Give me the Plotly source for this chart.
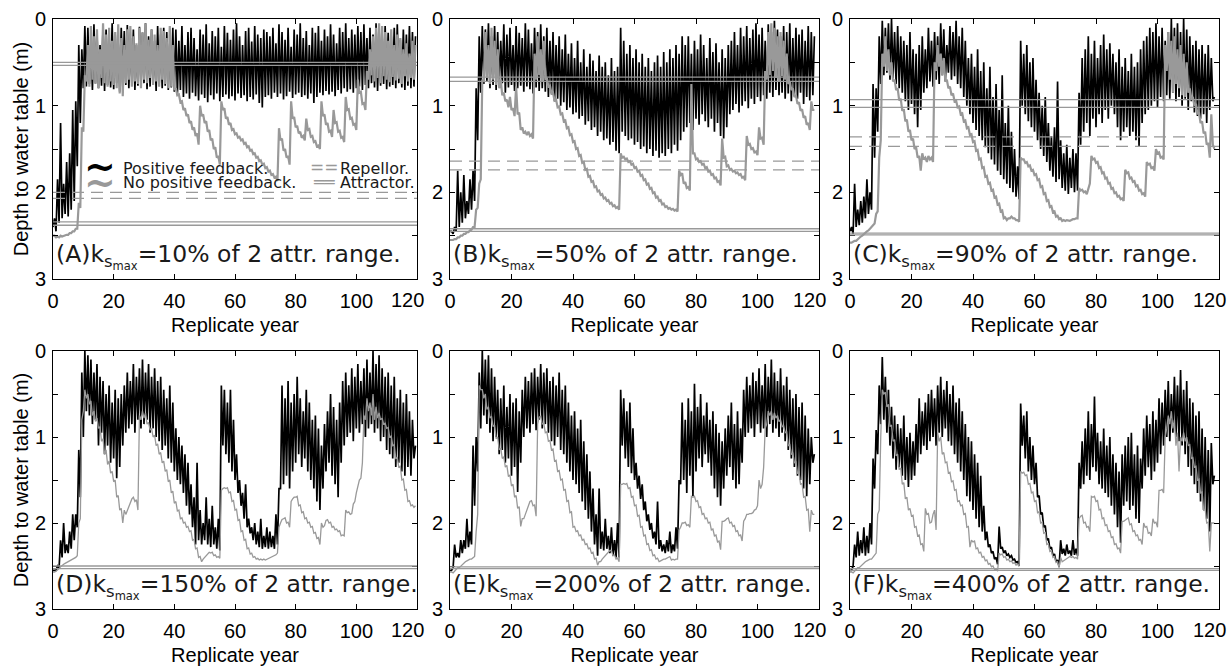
import plotly.graph_objects as go

# ---------------- data: annual deepest (start of year) and shallowest (wet-season peak) depth, m ----------------
A_pos_deep = [2.40,2.45,2.35,2.30,2.25,2.28,2.20,2.10,1.70,1.20,0.80,
    0.78,0.75,0.82,0.74,0.80,0.77,0.83,0.76,0.79,0.81,0.74,0.84,0.78,0.76,0.80,0.75,0.82,0.77,0.79,0.74,0.81,0.78,0.76,0.83,0.75,0.80,0.77,0.82,0.79,
    0.84,0.88,0.82,0.90,0.86,0.92,0.85,0.89,0.94,0.87,0.91,0.96,0.88,0.93,0.86,0.95,0.90,0.87,0.92,0.89,0.94,0.86,0.91,0.88,0.95,0.90,0.93,0.87,0.97,1.02,0.90,
    0.88,0.92,0.85,0.90,0.86,0.93,0.89,0.84,0.91,0.87,0.85,0.90,0.88,0.92,0.86,0.97,0.90,0.85,0.88,0.83,0.87,0.84,0.89,0.82,0.86,0.80,0.84,0.81,0.85,0.80,
    0.78,0.82,0.76,0.80,0.74,0.79,0.83,0.77,0.75,0.81,0.78,0.76,0.80,0.74,0.79,0.82,0.77,0.80,0.78]
A_pos_peak = [2.30,1.85,1.20,1.90,1.65,1.55,1.05,0.95,0.30,0.35,0.08,
    0.10,0.25,0.06,0.15,0.30,0.08,0.12,0.20,0.05,0.18,0.28,0.10,0.14,0.07,0.22,0.12,0.30,0.09,0.16,0.05,0.20,0.12,0.25,0.08,0.18,0.10,0.15,0.28,0.10,
    0.12,0.25,0.08,0.30,0.15,0.10,0.22,0.35,0.12,0.18,0.06,0.28,0.14,0.20,0.10,0.32,0.08,0.16,0.24,0.12,0.05,0.20,0.30,0.14,0.10,0.26,0.08,0.18,0.22,0.12,0.15,
    0.20,0.10,0.28,0.06,0.15,0.24,0.10,0.32,0.12,0.18,0.05,0.22,0.14,0.30,0.10,0.16,0.08,0.25,0.12,0.20,0.06,0.18,0.28,0.10,0.15,0.05,0.22,0.12,0.18,0.08,
    0.15,0.06,0.22,0.10,0.18,0.05,0.12,0.25,0.08,0.16,0.20,0.10,0.06,0.24,0.12,0.18,0.08,0.15,0.20]
A_nofb_deep = [2.50,2.52,2.52,2.51,2.50,2.49,2.47,2.45,2.42,2.18,1.30,
    0.72,0.78,0.70,0.75,0.80,0.68,0.74,0.78,0.72,0.76,0.80,0.86,0.89,0.74,0.70,0.78,0.72,0.75,0.80,0.70,0.74,0.68,0.76,0.72,0.78,0.70,0.75,0.80,0.78,
    0.82,0.88,0.96,1.05,1.12,1.20,1.28,1.35,1.45,1.12,1.20,1.30,1.40,1.50,1.60,1.68,1.05,1.15,1.22,1.28,1.33,1.37,1.40,1.44,1.48,1.52,1.56,1.60,1.64,1.68,1.72,
    1.76,1.80,1.83,1.87,1.40,1.52,1.60,1.68,1.15,1.25,1.32,1.37,1.40,1.28,1.36,1.42,1.47,1.50,1.12,1.22,1.30,1.36,1.20,1.30,1.37,1.42,1.05,1.15,1.22,1.28,
    0.85,0.98,1.05,0.70,0.65,0.72,0.68,0.74,0.66,0.70,0.73,0.67,0.71,0.69,0.75,0.66,0.72,0.68,0.70]
A_nofb_peak = [2.50,2.51,2.50,2.50,2.49,2.47,2.45,2.42,2.12,1.25,0.65,
    0.30,0.08,0.20,0.12,0.35,0.05,0.18,0.10,0.25,0.15,0.06,0.22,0.30,0.12,0.08,0.20,0.28,0.10,0.15,0.05,0.24,0.12,0.18,0.30,0.10,0.14,0.22,0.08,0.30,
    0.80,0.87,0.95,1.03,1.10,1.18,1.25,1.32,1.00,1.10,1.18,1.28,1.38,1.48,1.58,0.95,1.03,1.13,1.20,1.27,1.32,1.36,1.39,1.43,1.47,1.51,1.55,1.59,1.63,1.67,1.71,
    1.75,1.79,1.82,1.26,1.38,1.50,1.58,0.95,1.13,1.23,1.30,1.35,1.15,1.27,1.35,1.41,1.46,0.95,1.10,1.20,1.29,1.05,1.19,1.29,1.36,0.90,1.04,1.14,1.21,0.70,
    0.84,0.97,0.60,0.35,0.20,0.10,0.05,0.08,0.15,0.25,0.12,0.30,0.18,0.22,0.35,0.28,0.40,0.25,0.30]

B_pos_deep = [2.45,2.48,2.45,2.40,2.35,2.30,2.25,2.20,2.10,1.40,0.85,
    0.75,0.72,0.80,0.76,0.82,0.78,0.74,0.85,0.79,0.76,0.83,0.80,0.77,0.84,0.78,0.81,0.86,0.79,0.83,0.80,
    0.84,0.90,0.86,0.95,0.92,1.00,0.96,1.05,1.02,1.10,1.08,1.15,1.12,1.22,1.18,1.28,1.25,1.35,1.30,1.40,1.38,1.45,1.42,1.52,1.55,
    1.30,1.35,1.40,1.38,1.45,1.42,1.50,1.47,1.55,1.50,1.58,1.52,1.60,1.55,1.58,1.50,1.55,1.45,1.52,1.40,
    1.30,1.25,1.20,1.28,1.15,1.22,1.10,1.18,1.25,1.15,1.30,1.20,1.35,1.38,1.25,
    1.10,1.05,0.98,1.08,1.00,0.95,1.03,0.92,0.98,0.90,0.95,0.88,0.92,0.85,0.90,0.82,0.88,0.85,0.92,0.86,0.95,0.88,0.92,0.85,0.98,0.90,0.94,0.88]
B_pos_peak = [2.45,2.40,1.75,2.00,1.80,2.10,1.85,1.75,0.80,0.20,0.08,
    0.12,0.05,0.20,0.08,0.15,0.25,0.06,0.18,0.10,0.30,0.08,0.16,0.22,0.05,0.12,0.28,0.10,0.15,0.06,0.20,
    0.10,0.25,0.15,0.30,0.20,0.35,0.18,0.40,0.28,0.45,0.25,0.50,0.35,0.55,0.40,0.48,0.60,0.42,0.55,0.50,0.65,0.45,0.60,0.55,0.10,
    0.25,0.40,0.30,0.45,0.35,0.50,0.40,0.55,0.45,0.60,0.50,0.42,0.55,0.38,0.50,0.35,0.45,0.30,0.40,0.20,
    0.30,0.20,0.40,0.25,0.35,0.18,0.30,0.45,0.22,0.38,0.28,0.50,0.35,0.45,0.30,
    0.25,0.15,0.30,0.10,0.20,0.08,0.22,0.12,0.05,0.18,0.10,0.25,0.06,0.15,0.02,0.12,0.20,0.08,0.15,0.05,0.22,0.10,0.18,0.12,0.25,0.08,0.15,0.20]
B_nofb_deep = [2.55,2.55,2.54,2.52,2.50,2.48,2.46,2.43,2.40,2.18,1.85,
    0.72,0.68,0.75,0.70,0.76,0.80,0.88,0.95,1.02,1.05,1.12,1.10,1.28,1.32,1.34,1.35,1.38,0.70,0.65,0.72,
    0.70,0.78,0.86,0.94,1.02,1.10,1.18,1.26,1.34,1.42,1.50,1.58,1.66,1.74,1.82,1.88,1.94,1.99,2.03,2.07,2.10,2.13,2.16,2.18,2.20,
    1.60,1.62,1.65,1.68,1.72,1.76,1.81,1.86,1.91,1.96,2.01,2.06,2.10,2.14,2.17,2.19,2.20,2.21,2.22,1.80,
    1.90,1.95,1.98,1.55,1.62,1.65,1.68,1.72,1.76,1.80,1.84,1.88,1.92,1.60,1.70,
    1.74,1.76,1.78,1.80,1.83,1.86,1.45,1.50,1.54,1.57,1.38,1.45,0.70,0.65,0.60,0.68,0.72,0.66,0.70,0.75,0.82,0.90,0.98,1.06,1.14,1.22,1.28,1.05]
B_nofb_peak = [2.55,2.54,2.52,2.50,2.48,2.46,2.44,2.40,2.20,1.90,0.70,
    0.15,0.30,0.10,0.25,0.35,0.70,0.85,0.93,0.90,1.03,0.78,1.08,1.25,1.30,1.30,1.33,0.40,0.20,0.35,0.25,
    0.68,0.77,0.85,0.93,1.01,1.09,1.17,1.25,1.33,1.41,1.49,1.57,1.65,1.73,1.81,1.87,1.93,1.98,2.02,2.06,2.09,2.12,2.15,2.17,1.55,
    1.59,1.61,1.64,1.67,1.71,1.75,1.80,1.85,1.90,1.95,2.00,2.05,2.09,2.13,2.16,2.18,2.19,2.20,1.75,1.78,
    1.88,1.94,0.75,1.55,1.61,1.64,1.67,1.71,1.75,1.79,1.83,1.87,1.38,1.59,1.69,
    1.73,1.75,1.77,1.79,1.82,1.35,1.44,1.49,1.53,1.25,1.37,0.60,0.15,0.05,0.10,0.20,0.15,0.25,0.40,0.72,0.80,0.88,0.96,1.04,1.12,1.20,0.95,1.05]

C_pos_deep = [2.45,2.48,2.40,2.38,2.35,2.30,2.25,2.20,1.60,1.30,0.75,
    0.65,0.62,0.70,0.68,0.75,0.80,0.85,0.95,1.05,0.98,1.10,1.25,1.05,
    0.85,0.80,0.72,0.78,0.70,0.75,0.65,0.72,0.62,0.70,0.66,0.75,0.80,
    0.90,1.00,1.10,1.20,1.28,1.35,1.40,1.48,1.55,1.62,1.68,1.75,1.80,1.85,1.90,1.95,2.00,2.05,2.08,
    1.00,1.10,1.18,1.25,1.30,1.40,1.50,1.58,1.65,1.75,1.82,1.88,1.85,1.95,1.98,2.02,1.95,2.00,1.98,1.45,
    1.30,1.20,1.35,1.15,1.25,1.10,1.20,1.05,1.15,1.00,1.10,1.25,1.40,1.30,1.25,1.35,1.30,1.40,1.47,1.20,
    1.10,1.05,1.00,0.95,1.02,0.90,0.95,0.88,0.92,0.85,0.95,0.90,1.00,0.92,1.05,0.95,1.08,1.12,1.15,1.10,1.20,1.05,0.95]
C_pos_peak = [2.40,1.90,2.20,2.10,2.05,1.85,2.00,0.75,0.80,0.20,0.02,
    0.10,0.05,0.00,0.15,0.08,0.20,0.25,0.30,0.15,0.35,0.40,0.30,0.20,
    0.35,0.10,0.25,0.15,0.20,0.05,0.12,0.30,0.08,0.15,0.02,0.20,0.10,
    0.25,0.45,0.40,0.55,0.35,0.60,0.50,0.80,0.55,0.90,0.75,1.05,0.65,1.20,1.00,1.30,1.50,1.70,0.25,
    0.40,0.30,0.50,0.45,0.70,0.85,1.00,0.90,1.20,1.35,1.25,0.72,1.40,1.55,1.45,1.60,1.50,1.55,0.85,0.45,
    0.35,0.20,0.40,0.25,0.45,0.30,0.18,0.35,0.28,0.40,0.50,0.35,0.55,0.45,0.60,0.40,0.55,0.50,0.35,0.25,
    0.20,0.10,0.15,0.05,0.20,0.10,0.25,0.15,0.00,0.10,0.05,0.15,0.00,0.12,0.20,0.30,0.25,0.35,0.30,0.40,0.30,0.45,0.90]
C_nofb_deep = [2.58,2.57,2.56,2.53,2.50,2.47,2.44,2.41,2.36,2.22,1.40,
    0.55,0.60,0.65,0.72,0.82,0.94,1.06,1.18,1.30,1.40,1.50,1.60,1.75,1.62,1.65,1.62,1.65,0.60,0.55,0.65,
    0.72,0.80,0.88,0.95,1.02,1.10,1.18,1.26,1.34,1.42,1.52,1.62,1.72,1.82,1.90,1.98,2.06,2.14,2.22,2.30,2.32,2.30,2.30,2.32,2.34,
    1.62,1.66,1.70,1.75,1.80,1.86,1.94,2.02,2.10,2.17,2.23,2.28,2.31,2.33,2.33,2.33,2.32,2.31,2.30,1.98,
    2.00,2.02,1.90,1.62,1.66,1.72,1.78,1.84,1.90,1.96,2.01,2.05,2.08,2.10,1.78,
    1.84,1.88,1.93,1.98,2.02,2.05,1.68,1.72,1.75,1.55,1.60,1.62,0.60,0.70,0.85,0.75,0.80,0.88,0.90,0.85,0.92,1.00,1.10,1.20,1.32,1.45,1.60,1.45]
C_nofb_peak = [2.58,2.56,2.54,2.51,2.48,2.45,2.42,2.38,2.25,1.60,0.40,
    0.20,0.35,0.50,0.70,0.80,0.92,1.04,1.16,1.28,1.38,1.48,1.58,1.55,1.60,1.58,1.60,0.50,0.30,0.40,0.45,
    0.70,0.78,0.86,0.94,1.01,1.09,1.17,1.25,1.33,1.41,1.51,1.61,1.71,1.81,1.89,1.97,2.05,2.13,2.21,2.29,2.30,2.28,2.30,2.32,1.60,
    1.62,1.65,1.69,1.74,1.79,1.85,1.93,2.01,2.09,2.16,2.22,2.27,2.30,2.32,2.32,2.33,2.31,2.30,1.95,1.97,
    1.99,1.95,1.58,1.61,1.65,1.71,1.77,1.83,1.89,1.95,2.00,2.04,2.07,1.74,1.77,
    1.83,1.87,1.92,1.97,2.01,1.65,1.67,1.71,1.50,1.54,1.59,0.30,0.15,0.25,0.20,0.35,0.30,0.40,0.50,0.80,0.90,0.98,1.08,1.18,1.30,1.43,1.10,1.50]

D_pos_deep = [2.55,2.55,2.52,2.40,2.35,2.35,2.30,2.20,2.05,1.70,1.00,
    0.70,0.75,0.85,0.80,1.10,0.95,1.20,1.10,1.30,1.25,1.48,1.35,1.10,0.95,0.90,0.85,0.95,0.80,0.90,0.85,0.80,0.95,0.90,1.00,
    1.05,1.15,1.10,1.25,1.30,1.40,1.50,1.55,1.65,1.80,1.90,2.05,2.25,2.20,2.25,2.20,2.25,2.28,2.25,2.30,2.32,
    1.10,1.20,1.30,1.40,1.50,1.65,1.80,1.95,2.05,2.12,2.20,2.25,2.28,2.30,2.28,2.30,2.28,2.30,2.25,
    1.60,1.55,1.45,1.60,1.40,1.30,1.20,1.35,1.25,1.40,1.50,1.60,1.75,1.85,1.60,1.40,1.30,1.45,1.55,1.70,
    1.30,1.10,1.00,0.95,1.05,0.90,0.95,0.85,1.00,0.90,0.85,0.95,0.90,1.05,1.00,1.15,1.20,1.25,1.35,1.30,1.40,1.45,1.35,1.45,1.25]
D_pos_peak = [2.55,2.50,2.20,2.00,2.25,2.10,1.90,1.90,1.15,0.25,0.00,
    0.05,0.10,0.25,0.15,0.30,0.35,0.50,0.40,0.60,0.45,0.55,0.50,0.40,0.25,0.35,0.15,0.30,0.20,0.10,0.25,0.15,0.30,0.20,0.35,
    0.30,0.45,0.55,0.40,0.60,0.90,1.00,1.10,1.20,1.30,1.55,1.70,1.30,1.85,2.00,1.70,1.95,1.80,2.05,1.95,0.40,
    0.45,0.60,0.45,0.80,1.20,1.50,1.65,1.55,1.95,2.05,2.00,2.10,1.95,2.15,2.05,2.10,2.15,1.90,1.60,
    0.40,0.55,0.35,0.60,0.50,0.30,0.55,0.70,0.45,0.60,0.80,0.75,0.90,1.10,0.85,0.70,0.50,0.65,0.80,0.60,
    0.35,0.25,0.40,0.20,0.30,0.15,0.35,0.20,0.10,0.25,0.00,0.15,0.05,0.20,0.30,0.25,0.40,0.30,0.55,0.45,0.60,0.50,0.70,0.80,1.10]
D_nofb_deep = [2.57,2.56,2.53,2.50,2.47,2.45,2.43,2.41,2.38,1.95,0.70,
    0.55,0.62,0.75,0.82,0.90,1.05,1.20,1.32,1.42,1.52,1.70,1.85,2.00,1.90,1.80,1.72,1.75,1.85,0.80,0.78,
    0.85,0.92,1.00,1.10,1.20,1.30,1.40,1.52,1.65,1.77,1.86,1.95,2.00,2.05,2.10,2.20,2.30,2.40,2.45,2.40,2.36,2.35,2.38,2.40,2.41,
    1.60,1.60,1.65,1.75,1.85,1.97,2.10,2.20,2.30,2.36,2.40,2.42,2.43,2.43,2.43,2.42,2.40,2.38,2.35,
    2.00,1.95,2.00,2.05,1.72,1.70,1.80,1.88,1.95,2.00,2.05,2.12,2.18,2.25,2.05,1.97,2.00,2.05,2.08,2.10,2.15,2.15,1.88,1.90,1.78,
    1.65,1.50,1.30,0.80,0.70,0.75,0.80,0.78,0.80,0.85,0.90,1.00,1.10,1.25,1.35,1.50,1.62,1.75,1.80,1.82]
D_nofb_peak = [2.57,2.55,2.51,2.48,2.46,2.44,2.42,2.40,2.00,0.80,0.45,
    0.50,0.58,0.70,0.78,0.88,1.02,1.15,1.28,1.40,1.50,1.68,1.83,1.85,1.85,1.75,1.70,1.73,0.75,0.70,0.72,
    0.83,0.90,0.98,1.08,1.18,1.28,1.38,1.50,1.63,1.75,1.85,1.94,1.99,2.04,2.09,2.19,2.29,2.39,2.42,2.38,2.34,2.34,2.37,2.39,1.62,
    1.59,1.59,1.64,1.74,1.84,1.96,2.09,2.19,2.29,2.35,2.39,2.41,2.42,2.42,2.42,2.41,2.39,2.37,2.05,
    1.96,1.94,1.99,1.75,1.70,1.69,1.79,1.87,1.94,1.99,2.04,2.11,2.17,2.00,2.03,1.96,1.99,2.04,2.07,2.09,2.14,1.85,1.87,1.89,1.75,
    1.55,1.48,0.75,0.55,0.60,0.50,0.65,0.72,0.78,0.84,0.89,0.99,1.09,1.24,1.34,1.49,1.61,1.74,1.79,1.80]

E_pos_deep = [2.55,2.52,2.40,2.40,2.35,2.30,2.28,2.25,1.80,1.40,0.90,
    0.75,0.85,0.95,1.05,1.00,1.20,1.15,1.30,1.25,1.45,1.35,1.64,1.30,1.00,0.90,0.95,0.85,0.92,0.80,0.90,0.85,0.95,1.05,1.10,
    1.00,1.15,1.20,1.30,1.40,1.50,1.55,1.65,1.75,1.85,1.95,2.10,2.25,2.38,2.30,2.32,2.30,2.35,2.38,2.40,2.40,
    1.10,1.25,1.35,1.42,1.50,1.60,1.72,1.85,1.98,2.08,2.18,2.25,2.30,2.33,2.35,2.33,2.35,2.33,2.30,
    1.55,1.50,1.65,1.45,1.69,1.40,1.25,1.35,1.20,1.30,1.45,1.60,1.70,1.80,1.60,1.45,1.35,1.50,1.60,1.55,
    1.30,1.00,0.95,0.90,1.00,0.85,0.95,0.90,1.00,0.85,0.95,0.90,1.00,0.95,1.05,1.15,1.25,1.35,1.45,1.50,1.60,1.69,1.55,1.30]
E_pos_peak = [2.55,2.25,2.35,2.20,2.20,1.95,2.10,1.10,1.00,0.25,0.00,
    0.10,0.05,0.20,0.30,0.45,0.55,0.40,0.65,0.50,0.60,0.55,0.70,0.45,0.30,0.35,0.25,0.20,0.30,0.15,0.25,0.20,0.35,0.30,0.40,
    0.25,0.45,0.40,0.60,0.75,0.70,0.90,0.80,1.05,1.20,1.40,1.60,1.90,1.60,2.10,1.95,2.15,2.05,2.20,2.00,0.45,
    0.55,0.70,0.60,0.90,1.30,1.45,1.55,1.75,1.90,2.00,2.10,1.75,2.20,2.25,2.20,2.10,2.25,2.05,1.50,
    0.60,0.80,0.55,0.70,0.38,0.65,0.50,0.75,0.60,0.80,0.70,0.85,0.95,1.05,0.90,0.75,0.60,0.85,0.70,0.90,
    0.45,0.30,0.40,0.25,0.35,0.20,0.40,0.15,0.30,0.10,0.25,0.35,0.20,0.40,0.30,0.45,0.55,0.50,0.65,0.60,0.75,0.90,1.00,1.20]
E_nofb_deep = [2.57,2.58,2.55,2.52,2.48,2.45,2.43,2.42,2.39,1.90,0.45,
    0.55,0.68,0.78,0.88,1.02,1.15,1.25,1.35,1.46,1.57,1.70,1.83,2.04,1.95,1.85,1.75,1.80,1.92,0.77,0.85,
    0.95,1.05,1.15,1.28,1.40,1.50,1.62,1.75,1.88,2.05,2.10,2.15,2.20,2.25,2.30,2.35,2.42,2.49,2.45,2.40,2.35,2.32,2.38,2.42,2.45,
    1.55,1.55,1.60,1.70,1.80,1.92,2.05,2.15,2.25,2.32,2.38,2.42,2.45,2.43,2.42,2.40,2.43,2.43,2.42,
    2.05,2.00,2.03,2.05,1.70,1.75,1.82,1.90,1.95,2.00,2.08,2.15,2.22,2.31,1.98,1.95,2.00,2.04,2.10,2.15,2.21,1.95,1.90,1.89,1.85,
    1.80,1.60,1.35,0.85,0.75,0.80,0.78,0.82,0.88,0.95,1.10,1.20,1.30,1.42,1.55,1.70,1.85,2.10,1.90]
E_nofb_peak = [2.57,2.56,2.52,2.50,2.46,2.44,2.42,2.40,2.10,0.40,0.45,
    0.50,0.65,0.76,0.86,1.00,1.13,1.23,1.33,1.44,1.55,1.68,1.81,1.95,1.90,1.82,1.74,1.79,0.85,0.76,0.84,
    0.94,1.04,1.14,1.27,1.39,1.49,1.61,1.74,1.87,2.04,2.09,2.14,2.19,2.24,2.29,2.34,2.41,2.45,2.42,2.38,2.33,2.32,2.37,2.41,1.55,
    1.54,1.54,1.59,1.69,1.79,1.91,2.04,2.14,2.24,2.31,2.37,2.41,2.44,2.42,2.41,2.39,2.42,2.42,2.08,
    2.00,1.99,2.02,1.69,1.69,1.74,1.81,1.89,1.94,1.99,2.07,2.14,2.21,1.98,1.97,1.94,1.99,2.03,2.09,2.14,1.98,1.90,1.89,1.88,1.84,
    1.50,1.55,0.90,0.70,0.70,0.72,0.75,0.80,0.87,0.94,1.09,1.19,1.29,1.41,1.54,1.69,1.84,1.85,1.90]

F_pos_deep = [2.55,2.50,2.40,2.38,2.35,2.38,2.35,2.25,1.60,1.20,0.85,
    0.80,0.95,1.10,1.25,1.38,1.35,1.45,1.50,1.58,1.50,1.45,1.30,1.20,1.10,1.15,1.05,1.00,1.10,0.95,1.00,0.90,1.05,1.10,1.20,
    1.30,1.40,1.50,1.69,1.75,1.85,1.95,2.05,2.10,2.20,2.28,2.35,2.42,2.48,2.30,2.35,2.38,2.40,2.43,2.46,2.50,
    1.10,1.25,1.40,1.50,1.55,1.70,1.90,2.05,2.20,2.30,2.38,2.45,2.51,2.36,2.38,2.36,2.38,2.37,2.38,
    1.60,1.55,1.45,1.50,1.35,1.40,1.55,1.60,1.65,1.70,1.80,1.90,2.05,2.23,1.80,1.75,1.85,1.80,1.95,2.00,
    1.60,1.45,1.35,1.50,1.40,1.30,1.20,1.10,1.00,1.05,0.95,1.00,1.05,1.10,1.20,1.35,1.45,1.55,1.65,1.75,1.85,1.95,2.10,1.55]
F_pos_peak = [2.55,2.25,2.10,2.20,2.05,2.15,2.00,1.25,0.92,0.40,0.07,
    0.30,0.45,0.65,0.75,0.85,0.90,0.75,1.00,0.95,1.05,0.85,0.55,0.70,0.60,0.50,0.45,0.55,0.40,0.30,0.45,0.35,0.50,0.40,0.60,
    0.55,0.70,0.85,1.00,1.05,1.20,1.30,1.45,1.80,2.10,2.25,2.33,2.40,2.04,2.28,2.32,2.36,2.38,2.42,2.45,0.61,
    0.75,0.70,1.00,1.10,1.30,1.68,1.88,2.03,2.18,2.28,2.36,2.43,2.20,2.30,2.25,2.32,2.20,2.30,1.30,
    1.05,0.90,0.70,0.85,0.53,0.95,1.05,0.90,1.10,1.00,1.20,1.30,1.40,1.20,1.10,1.00,0.95,1.20,1.10,1.25,
    0.90,0.75,0.85,0.70,0.80,0.55,0.60,0.45,0.35,0.50,0.30,0.40,0.22,0.45,0.35,0.55,0.60,0.75,0.70,0.90,1.00,1.15,1.07,1.45]
F_nofb_deep = [2.57,2.58,2.55,2.52,2.48,2.45,2.43,2.42,2.38,1.90,1.00,
    0.50,0.65,0.88,1.05,1.22,1.38,1.55,1.72,1.85,1.92,2.05,2.15,2.25,2.33,1.90,2.00,1.90,2.08,1.05,1.20,
    1.30,1.42,1.52,1.62,1.75,1.80,1.90,2.05,2.28,2.22,2.30,2.35,2.40,2.44,2.48,2.51,2.54,2.56,2.37,2.40,2.43,2.45,2.47,2.49,2.50,
    1.42,1.45,1.55,1.65,1.75,1.88,2.00,2.12,2.25,2.33,2.40,2.46,2.52,2.45,2.42,2.40,2.40,2.41,2.42,
    1.92,2.00,2.05,2.10,1.70,1.75,1.85,1.95,2.03,2.10,2.17,2.25,2.30,2.35,1.98,1.95,2.02,2.10,2.15,2.20,2.25,2.05,2.12,2.15,2.00,
    2.05,1.62,1.65,0.90,0.85,0.90,1.10,1.40,1.05,1.05,1.10,1.25,1.35,1.50,1.65,1.85,2.00,2.33,2.00]
F_nofb_peak = [2.57,2.56,2.52,2.50,2.46,2.44,2.42,2.40,2.35,1.85,0.45,
    0.48,0.62,0.86,1.03,1.20,1.36,1.53,1.70,1.83,1.91,2.04,2.14,2.24,1.83,1.89,1.99,1.85,0.95,1.00,1.18,
    1.29,1.41,1.51,1.61,1.74,1.79,1.89,2.04,2.20,2.21,2.29,2.34,2.39,2.43,2.47,2.50,2.53,2.35,2.36,2.39,2.42,2.44,2.46,2.48,1.40,
    1.41,1.44,1.54,1.64,1.74,1.87,1.99,2.11,2.24,2.32,2.39,2.45,2.40,2.44,2.41,2.39,2.39,2.40,1.95,
    1.91,1.99,2.04,1.69,1.69,1.74,1.84,1.94,2.02,2.09,2.16,2.24,2.29,1.98,1.97,1.94,2.01,2.09,2.14,2.19,2.00,2.04,2.11,1.95,1.99,
    1.62,1.61,1.00,0.75,0.70,0.80,0.95,1.00,0.95,1.00,1.09,1.24,1.34,1.49,1.64,1.84,1.99,2.00,2.00]

# equilibria (two close values each: with / without positive feedback)
A_attr_hi, A_attr_lo, A_rep = [0.50, 0.535], [2.34, 2.38], [2.00, 2.07]
B_attr_hi, B_attr_lo, B_rep = [0.67, 0.72], [2.42, 2.45], [1.64, 1.74]
C_attr_hi, C_attr_lo, C_rep = [0.93, 1.02], [2.47, 2.49], [1.36, 1.47]
D_attr_lo = [2.50, 2.53]
E_attr_lo = [2.51, 2.53]
F_attr_lo = [2.53, 2.55]

panel_letters = ["A", "B", "C", "D", "E", "F"]
ks_percent = ["10%", "50%", "90%", "150%", "200%", "400%"]
x_ticks = [0, 20, 40, 60, 80, 100, 120]
x_ticktext = ["0", "20", "40", "60", "80", "100", ""]   # "120" is written separately so it stays inside the figure
last_xlabel = "120"
y_ticks = [0, 0.5, 1, 1.5, 2, 2.5, 3]
y_ticktext = ["0", "", "1", "", "2", "", "3"]

panels = [
    (A_pos_deep, A_pos_peak, A_nofb_deep, A_nofb_peak, A_attr_hi + A_attr_lo, A_rep),
    (B_pos_deep, B_pos_peak, B_nofb_deep, B_nofb_peak, B_attr_hi + B_attr_lo, B_rep),
    (C_pos_deep, C_pos_peak, C_nofb_deep, C_nofb_peak, C_attr_hi + C_attr_lo, C_rep),
    (D_pos_deep, D_pos_peak, D_nofb_deep, D_nofb_peak, D_attr_lo, []),
    (E_pos_deep, E_pos_peak, E_nofb_deep, E_nofb_peak, E_attr_lo, []),
    (F_pos_deep, F_pos_peak, F_nofb_deep, F_nofb_peak, F_attr_lo, []),
]

W, H = 1229, 668
x_px = [(53, 417), (450, 819), (850, 1219)]
y_px = [(19, 279), (351, 609)]

BLACK = "#000000"
GRAY = "#999999"
TICKFONT = dict(family="Liberation Sans, Arial, sans-serif", size=20, color="black")
TXTFONT = "DejaVu Sans, sans-serif"


def zigzag(deep, peak):
    xs, ys = [], []
    for i, (d, p) in enumerate(zip(deep, peak)):
        xs += [i, i + 0.5]
        ys += [d, p]
    return xs, ys


fig = go.Figure()
layout = {}
for k, (pd_, pp_, nd_, np_, attrs, reps) in enumerate(panels):
    r, c = divmod(k, 3)
    sfx = "" if k == 0 else str(k + 1)
    xa, ya = "x" + sfx, "y" + sfx
    x0, x1 = x_px[c]
    y0, y1 = y_px[r]
    layout["xaxis" + sfx] = dict(
        domain=[x0 / W, x1 / W], anchor=ya, range=[0, 120], tickvals=x_ticks,
        ticktext=x_ticktext, ticklabeloverflow="allow", ticklabelstandoff=4,
        ticks="inside", ticklen=5, tickcolor="black", showline=True, linecolor="black",
        linewidth=1, mirror="ticks", showgrid=False, zeroline=False, tickfont=TICKFONT,
        automargin=False,
        title=dict(text="Replicate year", font=TICKFONT, standoff=6),
    )
    layout["yaxis" + sfx] = dict(
        domain=[1 - y1 / H, 1 - y0 / H], anchor=xa, range=[3, 0], tickvals=y_ticks,
        ticktext=y_ticktext, ticks="inside", ticklen=5, tickcolor="black", showline=True,
        linecolor="black", linewidth=1, mirror="ticks", showgrid=False, zeroline=False,
        tickfont=TICKFONT, automargin=False, ticklabelstandoff=2, ticklabeloverflow="allow",
        title=dict(text="Depth to water table (m)" if c == 0 else "", font=TICKFONT, standoff=0),
    )
    gw = 2.2 if r == 0 else 1.3
    bx, by = zigzag(pd_, pp_)
    gx, gy = zigzag(nd_, np_)
    fig.add_trace(go.Scatter(x=bx, y=by, mode="lines", line=dict(color=BLACK, width=1.7),
                             xaxis=xa, yaxis=ya, hoverinfo="skip"))
    fig.add_trace(go.Scatter(x=gx, y=gy, mode="lines", line=dict(color=GRAY, width=gw),
                             xaxis=xa, yaxis=ya, hoverinfo="skip"))
    for v in attrs:
        fig.add_shape(type="line", xref=xa + " domain", yref=ya, x0=0, x1=1, y0=v, y1=v,
                      line=dict(color=GRAY, width=1.3), layer="above")
    for v in reps:
        fig.add_shape(type="line", xref=xa + " domain", yref=ya, x0=0, x1=1, y0=v, y1=v,
                      line=dict(color=GRAY, width=1.3, dash="12px,7px"), layer="above")
    fig.add_annotation(
        xref=xa + " domain", yref=ya, x=0.004, y=2.74, xanchor="left", yanchor="middle",
        text="(" + panel_letters[k] + ")k<sub>s<sub>max</sub></sub>=" + ks_percent[k] + " of 2 attr. range.",
        showarrow=False, font=dict(family=TXTFONT, size=23.5, color="#1a1a1a"),
    )
    # last x tick label, nudged left of its tick as in the original
    fig.add_annotation(
        xref=xa + " domain", yref=ya + " domain", x=0.974, y=-0.08, xanchor="center",
        yanchor="middle", text=last_xlabel, showarrow=False, font=TICKFONT,
    )

# legend (panel A)
leg_font = dict(family=TXTFONT, size=16, color="#1a1a1a")
fig.add_annotation(xref="x", yref="y", x=15.5, y=1.70, text="<b>~</b>", showarrow=False,
                   font=dict(family=TXTFONT, size=38, color=BLACK), xanchor="center", yanchor="middle")
fig.add_annotation(xref="x", yref="y", x=15.5, y=1.88, text="<b>~</b>", showarrow=False,
                   font=dict(family=TXTFONT, size=38, color=GRAY), xanchor="center", yanchor="middle")
fig.add_annotation(xref="x", yref="y", x=22.5, y=1.72, text="Positive feedback.", showarrow=False,
                   font=leg_font, xanchor="left", yanchor="middle")
fig.add_annotation(xref="x", yref="y", x=22.5, y=1.89, text="No positive feedback.", showarrow=False,
                   font=leg_font, xanchor="left", yanchor="middle")
fig.add_annotation(xref="x", yref="y", x=89.5, y=1.71, text="==", showarrow=False,
                   font=dict(family=TXTFONT, size=17, color=GRAY), xanchor="center", yanchor="middle")
fig.add_annotation(xref="x", yref="y", x=89.5, y=1.88, text="\u2550\u2550", showarrow=False,
                   font=dict(family=TXTFONT, size=17, color=GRAY), xanchor="center", yanchor="middle")
fig.add_annotation(xref="x", yref="y", x=94.0, y=1.72, text="Repellor.", showarrow=False,
                   font=leg_font, xanchor="left", yanchor="middle")
fig.add_annotation(xref="x", yref="y", x=94.0, y=1.89, text="Attractor.", showarrow=False,
                   font=leg_font, xanchor="left", yanchor="middle")

fig.update_layout(width=W, height=H, margin=dict(l=0, r=0, t=0, b=0), showlegend=False,
                  paper_bgcolor="white", plot_bgcolor="white", **layout)
# remove the browser's default 8px page margin so the figure sits at the window origin
fig.write_html("out.html", config={"displayModeBar": False},
               post_script="document.body.style.margin='0px';")
